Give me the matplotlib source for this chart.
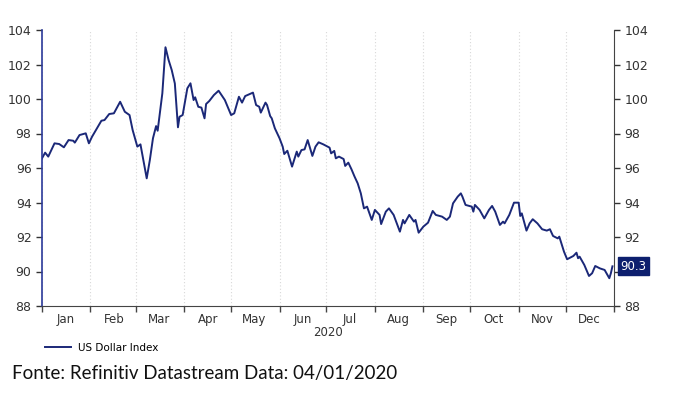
import matplotlib
matplotlib.use("Agg")
import matplotlib.pyplot as plt
import matplotlib.dates as mdates
import pandas as pd

# US Dollar Index 2020
datas = [
    "2020-01-01", "2020-01-03", "2020-01-05", "2020-01-07", "2020-01-09", "2020-01-12",
    "2020-01-15", "2020-01-18", "2020-01-21", "2020-01-22", "2020-01-25", "2020-01-29",
    "2020-01-31", "2020-02-02", "2020-02-08", "2020-02-10", "2020-02-13", "2020-02-16",
    "2020-02-20", "2020-02-23", "2020-02-26", "2020-02-28", "2020-03-02", "2020-03-04",
    "2020-03-08", "2020-03-10", "2020-03-12", "2020-03-14", "2020-03-15", "2020-03-18",
    "2020-03-20", "2020-03-22", "2020-03-24", "2020-03-26", "2020-03-28", "2020-03-29",
    "2020-03-31", "2020-04-03", "2020-04-05", "2020-04-07", "2020-04-08", "2020-04-10",
    "2020-04-12", "2020-04-14", "2020-04-15", "2020-04-17", "2020-04-20", "2020-04-23",
    "2020-04-27", "2020-05-01", "2020-05-03", "2020-05-06", "2020-05-08", "2020-05-10",
    "2020-05-13", "2020-05-15", "2020-05-17", "2020-05-19", "2020-05-20", "2020-05-23",
    "2020-05-24", "2020-05-26", "2020-05-27", "2020-05-29", "2020-06-01", "2020-06-03",
    "2020-06-04", "2020-06-06", "2020-06-09", "2020-06-12", "2020-06-13", "2020-06-15",
    "2020-06-17", "2020-06-19", "2020-06-22", "2020-06-24", "2020-06-26", "2020-06-29",
    "2020-07-03", "2020-07-04", "2020-07-06", "2020-07-07", "2020-07-09", "2020-07-12",
    "2020-07-13", "2020-07-15", "2020-07-17", "2020-07-19", "2020-07-21", "2020-07-23",
    "2020-07-25", "2020-07-27", "2020-07-30", "2020-08-01", "2020-08-04", "2020-08-05",
    "2020-08-08", "2020-08-10", "2020-08-13", "2020-08-17", "2020-08-19", "2020-08-20",
    "2020-08-23", "2020-08-26", "2020-08-27", "2020-08-29", "2020-09-01", "2020-09-04",
    "2020-09-07", "2020-09-09", "2020-09-13", "2020-09-16", "2020-09-18", "2020-09-20",
    "2020-09-23", "2020-09-25", "2020-09-26", "2020-09-28", "2020-10-02", "2020-10-03",
    "2020-10-04", "2020-10-07", "2020-10-10", "2020-10-13", "2020-10-15", "2020-10-17",
    "2020-10-20", "2020-10-22", "2020-10-23", "2020-10-26", "2020-10-29", "2020-11-01",
    "2020-11-02", "2020-11-03", "2020-11-06", "2020-11-08", "2020-11-10", "2020-11-13",
    "2020-11-16", "2020-11-19", "2020-11-21", "2020-11-23", "2020-11-26", "2020-11-27",
    "2020-11-30", "2020-12-02", "2020-12-06", "2020-12-08", "2020-12-09", "2020-12-10",
    "2020-12-13", "2020-12-16", "2020-12-18", "2020-12-20", "2020-12-23", "2020-12-26",
    "2020-12-29", "2020-12-30", "2020-12-31",
]
valores = [
    96.56, 96.89, 96.66, 97.04, 97.43, 97.39,
    97.20, 97.62, 97.58, 97.47, 97.91, 98.01,
    97.43, 97.81, 98.74, 98.78, 99.13, 99.17,
    99.84, 99.26, 99.07, 98.20, 97.24, 97.37,
    95.40, 96.46, 97.72, 98.43, 98.16, 100.33,
    103.00, 102.26, 101.68, 100.90, 98.36, 98.97,
    99.07, 100.62, 100.91, 99.94, 100.10, 99.55,
    99.50, 98.88, 99.71, 99.88, 100.23, 100.48,
    99.94, 99.07, 99.17, 100.13, 99.79, 100.17,
    100.29, 100.37, 99.65, 99.55, 99.21, 99.79,
    99.65, 99.01, 98.88, 98.30, 97.72, 97.24,
    96.81, 97.00, 96.08, 96.95, 96.66, 97.04,
    97.08, 97.62, 96.70, 97.24, 97.49, 97.37,
    97.18, 96.85, 96.99, 96.56, 96.66, 96.52,
    96.12, 96.31, 95.93, 95.50, 95.11, 94.53,
    93.66, 93.76, 92.99, 93.57, 93.28, 92.75,
    93.47, 93.66, 93.28, 92.31, 92.99, 92.79,
    93.28, 92.89, 92.99, 92.25, 92.60, 92.83,
    93.51, 93.28, 93.18, 92.99, 93.18, 93.95,
    94.34, 94.53, 94.34, 93.86, 93.76, 93.47,
    93.86, 93.57, 93.08, 93.57, 93.80, 93.47,
    92.70, 92.89, 92.79, 93.28, 93.99, 93.99,
    93.22, 93.37, 92.37, 92.79, 93.03, 92.79,
    92.45, 92.37, 92.45, 92.06, 91.92, 92.02,
    91.15, 90.71, 90.90, 91.09, 90.77, 90.86,
    90.38, 89.74, 89.90, 90.32, 90.18, 90.09,
    89.61, 89.90, 90.30,
]
ultimo_valor = 90.3
y_ticks = [88, 90, 92, 94, 96, 98, 100, 102, 104]

cor_linha = "#1b2878"
datas = pd.to_datetime(datas)

fig = plt.figure(figsize=(6.73, 3.99), dpi=100)
ax = fig.add_axes([42 / 673, 1 - 306 / 399, 572 / 673, 276 / 399])

ax.plot(datas, valores, color=cor_linha, lw=1.4, label="US Dollar Index")

ax.set_xlim(pd.Timestamp("2020-01-01"), pd.Timestamp("2021-01-01"))
ax.set_ylim(88, 104)
ax.set_yticks(y_ticks)

# meses: tick no inicio, rotulo no meio
ax.xaxis.set_major_locator(mdates.MonthLocator())
ax.xaxis.set_major_formatter(plt.NullFormatter())
ax.xaxis.set_minor_locator(mdates.MonthLocator(bymonthday=16))
ax.xaxis.set_minor_formatter(mdates.DateFormatter("%b"))
ax.tick_params(axis="x", which="minor", length=0, labelsize=8.5, pad=5, colors="#333333")
ax.tick_params(axis="x", which="major", length=4, width=1, color="#444444")
ax.grid(axis="x", which="major", color="#d8d8d8", linestyle=(0, (1, 2)), lw=0.8)

ax.tick_params(axis="y", which="major", length=4, width=1, labelsize=9,
               left=True, right=True, labelleft=True, labelright=True,
               colors="#333333")
for t in ax.yaxis.get_ticklines()[::2]:
    t.set_color("#2b3a9a")

# o rotulo do ultimo valor cobre o 90 da direita
ax.yaxis.get_major_ticks()[y_ticks.index(90)].label2.set_visible(False)

ax.spines["top"].set_visible(False)
ax.spines["left"].set_color("#2b3a9a")
ax.spines["left"].set_linewidth(1.2)
ax.spines["right"].set_color("#444444")
ax.spines["bottom"].set_color("#444444")

# rotulo do ultimo valor
ax.annotate(f"{ultimo_valor:.1f}", xy=(1.0, ultimo_valor), xycoords=("axes fraction", "data"),
            xytext=(4.5, 0), textcoords="offset points", va="center", ha="left",
            fontsize=8.5, color="white", zorder=5,
            bbox=dict(boxstyle="square,pad=0.2", fc="#0d1f6e", ec="#0d1f6e"))

fig.text(328 / 673, 1 - 333 / 399, "2020", ha="center", va="center", fontsize=8.5, color="#333333")

fig.legend(loc="center left", bbox_to_anchor=(36 / 673, 1 - 348 / 399), frameon=False,
           fontsize=7.5, handlelength=2.5, handletextpad=0.6)

fig.text(12 / 673, 1 - 374 / 399, "Fonte: Refinitiv Datastream Data: 04/01/2020",
         ha="left", va="center", fontsize=13.5, family="Lato", color="#111111")

fig.savefig("out.png", dpi=100)
